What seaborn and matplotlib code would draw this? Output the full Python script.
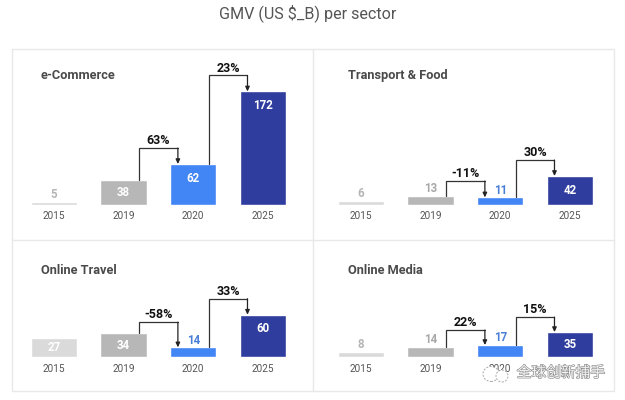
import matplotlib
matplotlib.use("Agg")
import matplotlib.pyplot as plt
import matplotlib.patheffects as pe
from matplotlib.patches import Ellipse, Rectangle
import pandas as pd
import seaborn as sns

W, H = 625, 400

years = ["2015", "2019", "2020", "2025"]
sectors = ["e-Commerce", "Transport & Food", "Online Travel", "Online Media"]
ecommerce = [5, 38, 62, 172]
transport = [6, 13, 11, 42]
travel = [27, 34, 14, 60]
media = [8, 14, 17, 35]
ecommerce_pct = ["63%", "23%"]
transport_pct = ["-11%", "30%"]
travel_pct = ["-58%", "33%"]
media_pct = ["22%", "15%"]

bar_colors = ["#dadada", "#b7b7b7", "#4285f4", "#2f3e9e"]
value_outside = ["#b5b5b5", "#a8a8a8", "#4a7fd6"]

# pixel layout of each panel: first bar centre, baseline, px per unit, axes height, elbow gaps
layout = [
    (54.0, 205.0, 0.66, 155, (16, 16)),
    (361.0, 205.0, 0.69, 155, (15, 16)),
    (54.0, 357.3, 0.71, 115, (11, 16)),
    (361.0, 357.3, 0.72, 115, (15, 15)),
]
STEP = 69.6
XMIN, XMAX = -0.6, 3.7

sns.set_theme(style="white")
plt.rcParams["font.family"] = ["Roboto", "DejaVu Sans"]


def px_to_fig(x, y):
    return x / W, 1 - y / H


def draw_connector(ax, x0, x1, y0, y1, top, label):
    ax.plot([x0, x0, x1], [y0, top, top], color="#333333", lw=0.9, solid_joinstyle="miter")
    ax.annotate("", xy=(x1, y1), xytext=(x1, top),
                arrowprops=dict(arrowstyle="-|>,head_width=0.14,head_length=0.3", color="#222222",
                                lw=0.9, shrinkA=0, shrinkB=0, mutation_scale=9))
    ax.annotate(label, xy=((x0 + x1) / 2, top), xytext=(0, 0.5), textcoords="offset points",
                ha="center", va="bottom", fontsize=9, fontweight="bold", color="#111111")


def draw_panel(fig, name, values, pct, cfg):
    x0, base, scale, height, gaps = cfg
    left = x0 + XMIN * STEP
    width = (XMAX - XMIN) * STEP
    ax = fig.add_axes([left / W, 1 - base / H, width / W, height / H])
    ax.patch.set_visible(False)

    df = pd.DataFrame({"year": years, "value": values})
    sns.barplot(df, x="year", y="value", hue="year", palette=bar_colors, width=0.667,
                legend=False, ax=ax, saturation=1)
    ax.set_xlim(XMIN, XMAX)
    ax.set_ylim(0, height / scale)
    ax.set_xlabel("")
    ax.set_ylabel("")
    ax.set_yticks([])
    ax.tick_params(axis="x", length=0, pad=4.5, labelsize=7.2, labelcolor="#555555")
    sns.despine(ax=ax, left=True, bottom=True)

    for i, v in enumerate(values):
        h_px = v * scale
        if h_px >= 18:
            # tall bars carry the value inside
            off = -min(h_px / 2, 14) / 1.39
            color = "white"
        else:
            off = 7.3 / 1.39
            color = value_outside[i]
        ax.annotate(str(v), xy=(i, v), xytext=(0, off), textcoords="offset points",
                    ha="center", va="center", fontsize=8.3, fontweight="bold", color=color)

    # growth elbows, tops are set from the taller bar plus a pixel gap
    top1 = max(values[1], values[2]) + gaps[0] / scale
    top2 = max(values[2], values[3]) + gaps[1] / scale
    draw_connector(ax, 1.225, 1.78, values[1], values[2], top1, pct[0])
    draw_connector(ax, 2.225, 2.78, values[2], values[3], top2, pct[1])

    fig.text(*px_to_fig(x0 - 13, base - (129.5 if base < 300 else 87)), name, ha="left", va="center",
             fontsize=9.2, fontweight="bold", color="#4a4a4a")
    return ax


fig = plt.figure(figsize=(W / 100, H / 100), dpi=100, facecolor="white")

# panel frame
frame = "#e8e8e8"
fx0, fy1 = px_to_fig(11.5, 391)
fx1, fy0 = px_to_fig(613.5, 49)
fig.add_artist(Rectangle((fx0, fy1), fx1 - fx0, fy0 - fy1, transform=fig.transFigure,
                         fill=False, edgecolor=frame, lw=1))
mx, _ = px_to_fig(313, 0)
_, my = px_to_fig(0, 240)
fig.add_artist(plt.Line2D([mx, mx], [fy1, fy0], color=frame, lw=1))
fig.add_artist(plt.Line2D([fx0, fx1], [my, my], color=frame, lw=1))

fig.text(*px_to_fig(307.5, 13), "GMV (US $_B) per sector", ha="center", va="center",
         fontsize=11.6, color="#555555")

series = [ecommerce, transport, travel, media]
pcts = [ecommerce_pct, transport_pct, travel_pct, media_pct]
axes = [draw_panel(fig, n, v, p, c) for n, v, p, c in zip(sectors, series, pcts, layout)]

# the watermark hides the last year label of the media panel in the source
axes[3].set_xticks(range(4), years[:3] + [""])

# watermark over the bottom right corner
for cx, cy, w, h in [(491, 374, 16, 15), (502, 376, 12, 12)]:
    fx, fy = px_to_fig(cx, cy)
    fig.add_artist(Ellipse((fx, fy), w / W, h / H, transform=fig.transFigure, facecolor="white",
                           edgecolor="#a8a8a8", lw=0.7, ls=(0, (2, 1.5))))
wm = fig.text(*px_to_fig(561, 373), "全球创新捕手", ha="center", va="center", fontsize=10.6,
              color="#f6f6f6", family=["Noto Sans CJK SC", "DejaVu Sans"])
wm.set_path_effects([pe.Stroke(linewidth=0.9, foreground="#8a8a8a"), pe.Normal()])

fig.savefig("out.png", dpi=100)
